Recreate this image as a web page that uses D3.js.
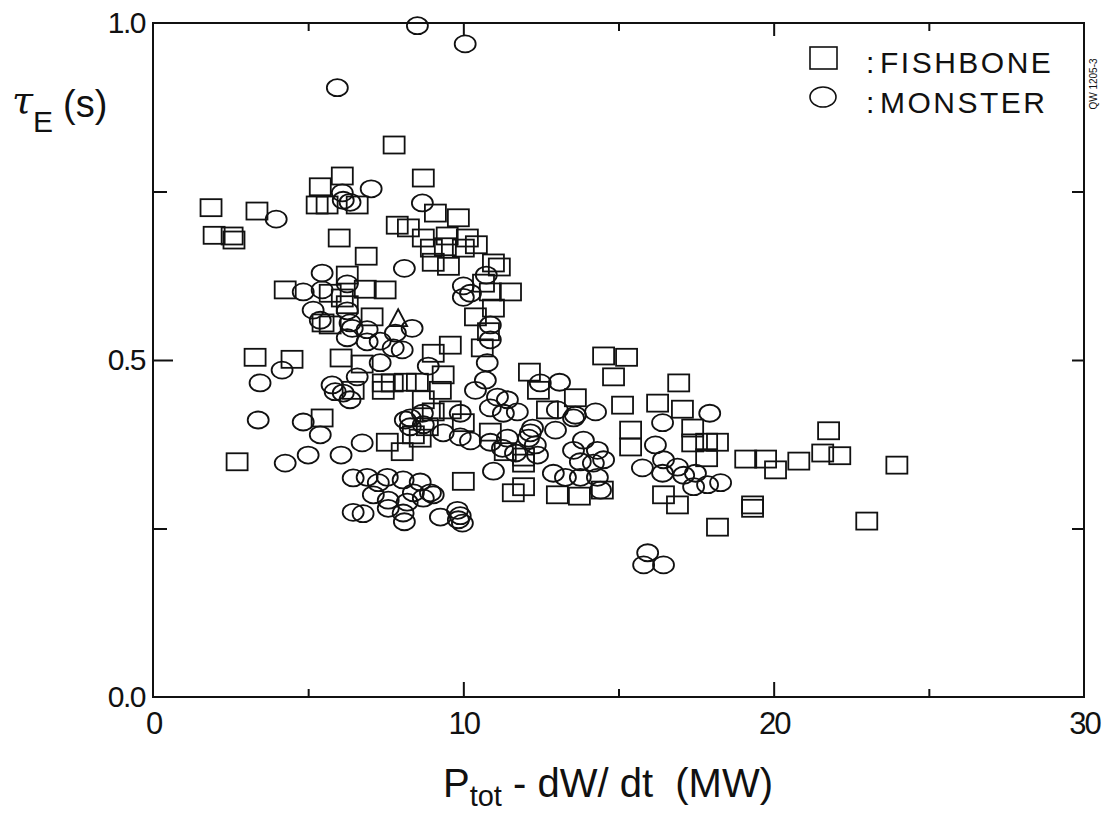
<!DOCTYPE html>
<html>
<head>
<meta charset="utf-8">
<script src="https://cdn.jsdelivr.net/npm/d3@7"></script>
<style>
  body { margin: 0; background: #fff; }
  svg { display: block; }
  text { font-family: "Liberation Sans", Arial, sans-serif; fill: #111; }
</style>
</head>
<body>
<svg id="chart" width="1108" height="815"></svg>
<script>
// FISHBONE shots (squares): P_tot - dW/dt (MW), tau_E (s)
const fishbonePower = [
  1.87, 3.35, 1.97, 2.55, 2.61, 6.10, 5.39, 5.29, 5.61, 6.58,
  7.77, 8.71, 9.10, 9.84, 7.87, 8.23, 8.71, 9.48, 10.13, 10.42,
  8.97, 9.42, 10.00, 6.00, 6.87, 9.03, 9.52, 11.16, 6.26, 6.84,
  7.48, 4.26, 6.10, 5.71, 10.87, 11.52, 10.65, 10.97, 10.39, 10.97,
  10.81, 7.06, 5.71, 9.58, 9.35, 10.61, 9.03, 3.29, 4.48, 6.06,
  6.74, 7.42, 7.71, 8.13, 8.52, 7.42, 6.45, 9.26, 8.71, 9.58,
  10.00, 8.39, 10.87, 11.94, 11.35, 11.94, 7.55, 8.03, 5.45, 2.71,
  10.00, 11.61, 11.94, 13.03, 13.74, 14.48, 12.13, 12.42, 12.71, 13.61,
  14.52, 15.26, 14.84, 15.13, 15.39, 15.39, 16.26, 17.06, 16.94, 17.39,
  17.39, 17.84, 18.19, 17.84, 16.45, 16.90, 18.19, 19.32, 19.32, 19.10,
  19.74, 20.06, 20.81, 21.77, 21.58, 22.13, 23.97, 23.00, 6.26, 5.48,
  9.03, 8.84, 8.61
];
const fishboneTau = [
  0.726, 0.721, 0.685, 0.684, 0.678, 0.773, 0.757, 0.730, 0.730, 0.730,
  0.819, 0.770, 0.718, 0.711, 0.700, 0.696, 0.681, 0.684, 0.681, 0.671,
  0.666, 0.668, 0.666, 0.681, 0.654, 0.645, 0.639, 0.638, 0.626, 0.605,
  0.604, 0.604, 0.592, 0.599, 0.601, 0.601, 0.614, 0.644, 0.564, 0.577,
  0.542, 0.564, 0.552, 0.522, 0.478, 0.518, 0.510, 0.504, 0.501, 0.503,
  0.494, 0.466, 0.466, 0.467, 0.467, 0.455, 0.455, 0.455, 0.441, 0.426,
  0.407, 0.389, 0.393, 0.356, 0.364, 0.347, 0.378, 0.364, 0.414, 0.349,
  0.320, 0.303, 0.312, 0.300, 0.298, 0.307, 0.482, 0.455, 0.426, 0.444,
  0.506, 0.504, 0.475, 0.433, 0.396, 0.371, 0.436, 0.427, 0.466, 0.399,
  0.377, 0.378, 0.378, 0.355, 0.300, 0.285, 0.252, 0.280, 0.285, 0.353,
  0.353, 0.337, 0.350, 0.395, 0.362, 0.358, 0.344, 0.261, 0.582, 0.555,
  0.423, 0.401, 0.384
];

// MONSTER shots (circles)
const monsterPower = [
  8.52, 10.06, 5.94, 7.03, 6.10, 6.35, 6.13, 3.97, 8.68, 8.10,
  5.45, 6.26, 4.84, 5.45, 5.16, 5.39, 6.26, 6.35, 6.42, 6.90,
  8.35, 7.81, 6.26, 6.90, 7.32, 7.74, 8.03, 4.16, 3.45, 7.32,
  6.58, 5.77, 5.87, 6.35, 6.13, 8.87, 10.00, 10.23, 10.00, 10.74,
  10.87, 10.87, 10.77, 10.71, 10.39, 12.48, 13.10, 14.26, 13.55, 13.03,
  8.29, 8.68, 8.71, 8.13, 8.29, 9.35, 9.90, 9.90, 10.23, 10.87,
  11.10, 11.42, 11.74, 11.29, 10.87, 11.42, 11.26, 12.16, 12.23, 12.10,
  12.32, 12.39, 11.68, 12.97, 13.61, 13.87, 14.32, 13.55, 13.77, 14.19,
  14.52, 12.90, 13.29, 13.77, 14.32, 14.42, 10.97, 7.55, 8.06, 8.61,
  8.94, 8.39, 6.45, 6.90, 7.26, 7.10, 7.58, 8.19, 8.71, 9.03,
  6.45, 6.77, 7.58, 8.06, 8.10, 9.26, 9.81, 9.84, 9.97, 9.90,
  3.39, 4.84, 5.39, 4.26, 5.00, 6.06, 6.74, 15.77, 16.45, 16.42,
  16.90, 17.10, 17.48, 17.42, 17.87, 18.29, 17.94, 16.42, 16.19, 15.94,
  15.81, 16.45
];
const monsterTau = [
  0.996, 0.969, 0.904, 0.754, 0.748, 0.734, 0.737, 0.709, 0.733, 0.636,
  0.629, 0.613, 0.601, 0.604, 0.574, 0.559, 0.573, 0.555, 0.547, 0.545,
  0.547, 0.540, 0.533, 0.527, 0.528, 0.518, 0.515, 0.485, 0.466, 0.496,
  0.475, 0.463, 0.453, 0.441, 0.451, 0.491, 0.610, 0.599, 0.593, 0.626,
  0.552, 0.530, 0.496, 0.470, 0.455, 0.466, 0.467, 0.423, 0.414, 0.426,
  0.414, 0.421, 0.404, 0.411, 0.401, 0.392, 0.421, 0.386, 0.380, 0.429,
  0.445, 0.441, 0.423, 0.421, 0.378, 0.384, 0.369, 0.392, 0.399, 0.384,
  0.374, 0.359, 0.362, 0.396, 0.418, 0.381, 0.366, 0.366, 0.349, 0.347,
  0.352, 0.332, 0.326, 0.326, 0.326, 0.307, 0.335, 0.326, 0.322, 0.319,
  0.303, 0.303, 0.325, 0.326, 0.318, 0.300, 0.292, 0.289, 0.295, 0.300,
  0.274, 0.272, 0.280, 0.273, 0.260, 0.267, 0.277, 0.263, 0.258, 0.269,
  0.411, 0.408, 0.389, 0.347, 0.359, 0.359, 0.377, 0.340, 0.352, 0.332,
  0.341, 0.329, 0.332, 0.312, 0.315, 0.318, 0.421, 0.407, 0.374, 0.214,
  0.196, 0.196
];

// one unlabelled triangle
const otherPower = [7.90];
const otherTau = [0.562];

const xMajor = [0, 10, 20, 30];
const xMinor = [5, 15, 25];
const yMajor = [0, 0.5, 1];
const yMinor = [0.25, 0.75];
const yTickLabels = ['0.0', '0.5', '1.0'];

const svg = d3.select('#chart');
const plotLeft = 153, plotRight = 1084, plotTop = 23, plotBottom = 697;

const x = d3.scaleLinear().domain([0, 30]).range([plotLeft, plotRight]);
const y = d3.scaleLinear().domain([0, 1]).range([plotBottom, plotTop]);

const ink = '#111';

// frame
svg.append('rect')
  .attr('x', plotLeft).attr('y', plotTop)
  .attr('width', plotRight - plotLeft).attr('height', plotBottom - plotTop)
  .attr('fill', 'none').attr('stroke', ink).attr('stroke-width', 2);

// inward ticks on all four sides
function ticks(axis, transform) {
  const g = svg.append('g').attr('transform', transform).call(axis);
  g.select('.domain').remove();
  g.selectAll('line').attr('stroke', ink).attr('stroke-width', 2);
  return g;
}
ticks(d3.axisBottom(x).tickValues([10, 20]).tickSize(-15).tickFormat(''), `translate(0,${plotBottom})`);
ticks(d3.axisBottom(x).tickValues(xMinor).tickSize(-8).tickFormat(''), `translate(0,${plotBottom})`);
ticks(d3.axisTop(x).tickValues([10, 20]).tickSize(-13).tickFormat(''), `translate(0,${plotTop})`);
ticks(d3.axisTop(x).tickValues(xMinor).tickSize(-8).tickFormat(''), `translate(0,${plotTop})`);
ticks(d3.axisLeft(y).tickValues([0.5]).tickSize(-20).tickFormat(''), `translate(${plotLeft},0)`);
ticks(d3.axisLeft(y).tickValues(yMinor).tickSize(-14).tickFormat(''), `translate(${plotLeft},0)`);
ticks(d3.axisRight(y).tickValues([0.5]).tickSize(-12).tickFormat(''), `translate(${plotRight},0)`);
ticks(d3.axisRight(y).tickValues(yMinor).tickSize(-12).tickFormat(''), `translate(${plotRight},0)`);

// tick labels
const xLab = svg.append('g').attr('transform', `translate(0,${plotBottom})`)
  .call(d3.axisBottom(x).tickValues(xMajor).tickSize(0).tickPadding(15).tickFormat(d3.format('d')));
xLab.select('.domain').remove();
xLab.selectAll('text').attr('font-size', 31).attr('letter-spacing', -2)
  .style('font-family', '"Liberation Sans", Arial, sans-serif').attr('fill', ink);

const yLab = svg.append('g').attr('transform', `translate(${plotLeft},0)`)
  .call(d3.axisLeft(y).tickValues(yMajor).tickSize(0).tickPadding(8)
    .tickFormat((d, i) => yTickLabels[i]));
yLab.select('.domain').remove();
yLab.selectAll('text').attr('font-size', 30).attr('letter-spacing', -1.5)
  .style('font-family', '"Liberation Sans", Arial, sans-serif').attr('fill', ink);

// axis titles
const xt = svg.append('text').attr('x', 443).attr('y', 797).attr('font-size', 40);
xt.append('tspan').text('P');
xt.append('tspan').attr('font-size', 29).attr('dy', 9).text('tot');
xt.append('tspan').attr('dy', -9).attr('xml:space', 'preserve').text(' - dW/ dt  (MW)');

const yt = svg.append('text').attr('x', 12).attr('y', 113).attr('font-size', 38);
yt.append('tspan').attr('font-style', 'italic')
  .style('font-family', '"DejaVu Serif", "Liberation Serif", serif').text('τ');
yt.append('tspan').attr('font-size', 30).attr('dy', 19).text('E');
yt.append('tspan').attr('dy', -15).attr('dx', 10).text('(s)');

// small code on the right edge
svg.append('text')
  .attr('transform', 'translate(1097,84) rotate(-90)')
  .attr('text-anchor', 'middle').attr('font-size', 10)
  .text('QW 1205-3');

// markers
const plot = svg.append('g').attr('fill', 'none').attr('stroke', ink).attr('stroke-width', 1.8);
const sqW = 21, sqH = 17, rx = 10.5, ry = 8.5;

plot.selectAll('rect.fish')
  .data(d3.zip(fishbonePower, fishboneTau))
  .join('rect')
  .attr('class', 'fish')
  .attr('x', d => x(d[0]) - sqW / 2)
  .attr('y', d => y(d[1]) - sqH / 2)
  .attr('width', sqW).attr('height', sqH);

plot.selectAll('ellipse.mon')
  .data(d3.zip(monsterPower, monsterTau))
  .join('ellipse')
  .attr('class', 'mon')
  .attr('cx', d => x(d[0]))
  .attr('cy', d => y(d[1]))
  .attr('rx', rx).attr('ry', ry);

plot.selectAll('path.other')
  .data(d3.zip(otherPower, otherTau))
  .join('path')
  .attr('class', 'other')
  .attr('d', d => {
    const cx = x(d[0]), cy = y(d[1]);
    return `M${cx},${cy - 9}L${cx + 9},${cy + 8}L${cx - 9},${cy + 8}Z`;
  });

// legend
const lg = svg.append('g');
lg.append('rect').attr('x', 810).attr('y', 47).attr('width', 27).attr('height', 22)
  .attr('fill', 'none').attr('stroke', ink).attr('stroke-width', 1.6);
lg.append('ellipse').attr('cx', 823).attr('cy', 97).attr('rx', 13).attr('ry', 10)
  .attr('fill', 'none').attr('stroke', ink).attr('stroke-width', 1.6);
[[':', 'FISHBONE', 73], [':', 'MONSTER', 113]].forEach(([c, name, by]) => {
  lg.append('text').attr('x', 866).attr('y', by).attr('font-size', 30).text(c);
  lg.append('text').attr('x', 880).attr('y', by).attr('font-size', 30)
    .attr('letter-spacing', 2.5).text(name);
});
</script>
</body>
</html>
